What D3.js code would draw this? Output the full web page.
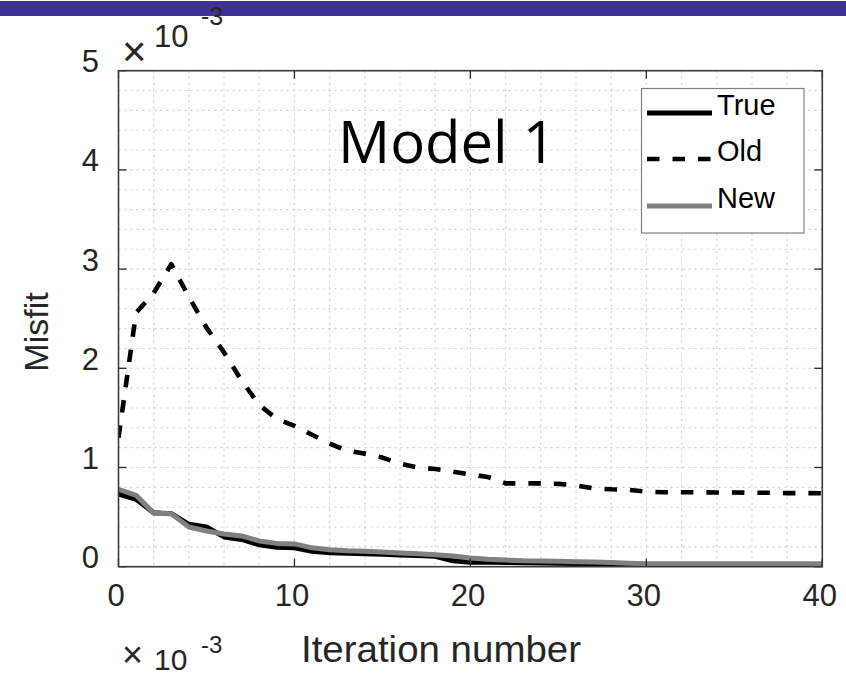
<!DOCTYPE html>
<html>
<head>
<meta charset="utf-8">
<script src="https://cdn.jsdelivr.net/npm/d3@7"></script>
<style>
  html, body { margin: 0; padding: 0; background: #fff; overflow: hidden; }
  svg { display: block; }
</style>
</head>
<body>
<svg id="chart" width="846" height="678"></svg>
<script>
// Iteration index and misfit (units of 1e-3) for each inversion run
const iterations = [0,1,2,3,4,5,6,7,8,9,10,11,12,13,14,15,16,17,18,19,20,
                    21,22,23,24,25,26,27,28,29,30,31,32,33,34,35,36,37,38,39,40];
const misfitTrue = [0.733,0.68,0.545,0.535,0.427,0.40,0.30,0.275,0.22,0.195,0.19,
                    0.155,0.14,0.135,0.13,0.125,0.118,0.112,0.105,0.06,0.045,
                    0.044,0.043,0.04,0.038,0.035,0.032,0.03,0.025,0.02,0.015,
                    0.015,0.015,0.015,0.015,0.015,0.015,0.015,0.015,0.015,0.015];
const misfitOld  = [1.30,2.56,2.76,3.05,2.72,2.41,2.16,1.875,1.63,1.49,1.42,
                    1.33,1.24,1.17,1.14,1.10,1.04,1.00,0.985,0.958,0.93,
                    0.904,0.84,0.84,0.84,0.835,0.82,0.79,0.78,0.775,0.756,
                    0.75,0.75,0.75,0.748,0.748,0.745,0.745,0.742,0.742,0.74];
const misfitNew  = [0.78,0.72,0.54,0.535,0.40,0.36,0.33,0.31,0.26,0.235,0.23,
                    0.19,0.17,0.16,0.155,0.148,0.138,0.13,0.12,0.108,0.088,
                    0.075,0.067,0.06,0.057,0.054,0.05,0.047,0.042,0.036,0.03,
                    0.03,0.03,0.03,0.03,0.03,0.03,0.03,0.03,0.03,0.03];

const seriesNames = ["True", "Old", "New"];
const xTickValues = [0, 10, 20, 30, 40];
const yTickValues = [0, 1, 2, 3, 4, 5];
const xDomain = [0, 40];
const yDomain = [0, 5];
const xMinorStep = 2;
const yMinorStep = 0.2;
const titleText = "Model 1";
const xLabelText = "Iteration number";
const yLabelText = "Misfit";
const exponentText = "-3";

const W = 846, H = 678;
const plot = { left: 118.5, right: 822.3, top: 70.7, bottom: 566.7 };
const axisColor = "#262626";
const sansFont = "'Liberation Sans', Arial, Helvetica, sans-serif";

const svg = d3.select("#chart");

// header band
svg.append("rect")
  .attr("x", 0).attr("y", 1).attr("width", W).attr("height", 15)
  .attr("fill", "#3b3293");

const x = d3.scaleLinear().domain(xDomain).range([plot.left, plot.right]);
const y = d3.scaleLinear().domain(yDomain).range([plot.bottom, plot.top]);

// dotted grid (major and minor)
const xGrid = d3.range(xDomain[0], xDomain[1] + 1e-9, xMinorStep);
const yGrid = d3.range(yDomain[0], yDomain[1] + 1e-9, yMinorStep);
const grid = svg.append("g")
  .attr("stroke", "#cdcdcd").attr("stroke-width", 1.1)
  .attr("stroke-dasharray", "2,4");
grid.selectAll("line.gx").data(xGrid.slice(1, -1)).join("line")
  .attr("class", "gx")
  .attr("x1", d => x(d)).attr("x2", d => x(d))
  .attr("y1", plot.top).attr("y2", plot.bottom);
grid.selectAll("line.gy").data(yGrid.slice(1, -1)).join("line")
  .attr("class", "gy")
  .attr("x1", plot.left).attr("x2", plot.right)
  .attr("y1", d => y(d)).attr("y2", d => y(d));

// clip so the thick lines stay inside the axes box
svg.append("clipPath").attr("id", "plotClip")
  .append("rect")
  .attr("x", plot.left).attr("y", plot.top)
  .attr("width", plot.right - plot.left).attr("height", plot.bottom - plot.top);

const line = d3.line().x(d => x(d[0])).y(d => y(d[1]));
const zipSeries = vals => iterations.map((it, i) => [it, vals[i]]);

const seriesStyle = {
  True: { color: "#000000", width: 5, dash: null },
  Old:  { color: "#000000", width: 4.6, dash: "12.5,13" },
  New:  { color: "#808080", width: 5, dash: null }
};
const seriesValues = { True: misfitTrue, Old: misfitOld, New: misfitNew };

const lines = svg.append("g").attr("clip-path", "url(#plotClip)");
seriesNames.forEach(name => {
  const s = seriesStyle[name];
  lines.append("path")
    .datum(zipSeries(seriesValues[name]))
    .attr("d", line)
    .attr("fill", "none")
    .attr("stroke", s.color)
    .attr("stroke-width", s.width)
    .attr("stroke-linejoin", "round")
    .attr("stroke-dasharray", s.dash);
});

// axes: bottom/left with labels, top/right mirrored ticks only
const tickLen = 8;
const axisBottom = d3.axisBottom(x).tickValues(xTickValues)
  .tickFormat(d3.format("d")).tickSize(0).tickPadding(0);
const gx = svg.append("g").attr("transform", `translate(0,${plot.bottom})`).call(axisBottom);
gx.select(".domain").remove();
gx.selectAll(".tick text")
  .attr("font-family", sansFont).attr("font-size", 31).attr("fill", axisColor)
  .attr("dy", 0).attr("y", 39.5).attr("dx", -3);

const axisLeft = d3.axisLeft(y).tickValues(yTickValues)
  .tickFormat(d3.format("d")).tickSize(0).tickPadding(0);
const gy = svg.append("g").attr("transform", `translate(${plot.left},0)`).call(axisLeft);
gy.select(".domain").remove();
gy.selectAll(".tick text")
  .attr("font-family", sansFont).attr("font-size", 31).attr("fill", axisColor)
  .attr("x", -19.5).attr("dy", 0).attr("y", 1);

// inward ticks on all four sides
const ticks = svg.append("g").attr("stroke", axisColor).attr("stroke-width", 1.3);
ticks.selectAll("line.tb").data(xTickValues).join("line").attr("class", "tb")
  .attr("x1", d => x(d)).attr("x2", d => x(d))
  .attr("y1", plot.bottom).attr("y2", plot.bottom - tickLen);
ticks.selectAll("line.tt").data(xTickValues).join("line").attr("class", "tt")
  .attr("x1", d => x(d)).attr("x2", d => x(d))
  .attr("y1", plot.top).attr("y2", plot.top + tickLen);
ticks.selectAll("line.tl").data(yTickValues).join("line").attr("class", "tl")
  .attr("x1", plot.left).attr("x2", plot.left + tickLen)
  .attr("y1", d => y(d)).attr("y2", d => y(d));
ticks.selectAll("line.tr").data(yTickValues).join("line").attr("class", "tr")
  .attr("x1", plot.right).attr("x2", plot.right - tickLen)
  .attr("y1", d => y(d)).attr("y2", d => y(d));

// axes box
svg.append("rect")
  .attr("x", plot.left).attr("y", plot.top)
  .attr("width", plot.right - plot.left).attr("height", plot.bottom - plot.top)
  .attr("fill", "none").attr("stroke", "#3a3a3a").attr("stroke-width", 1.6);

// axis labels
svg.append("text")
  .attr("x", 301).attr("y", 662)
  .attr("font-family", sansFont).attr("font-size", 36).attr("fill", axisColor)
  .attr("textLength", 280).attr("lengthAdjust", "spacingAndGlyphs")
  .text(xLabelText);

svg.append("text")
  .attr("transform", "translate(48,332) rotate(-90)")
  .attr("text-anchor", "middle")
  .attr("font-family", sansFont).attr("font-size", 34).attr("fill", axisColor)
  .text(yLabelText);

// exponent multiplier: this axis, and the one of the panel below
function exponentLabel(timesSize, timesY, tenSize, tenY, expSize, expY) {
  const g = svg.append("g").attr("font-family", sansFont).attr("fill", axisColor);
  g.append("text").attr("x", 122).attr("y", timesY).attr("font-size", timesSize)
    .attr("font-weight", 300).text("\u00d7");
  g.append("text").attr("x", 154).attr("y", tenY).attr("font-size", tenSize).text("10");
  g.append("text").attr("x", 201).attr("y", expY).attr("font-size", expSize).text(exponentText);
}
exponentLabel(42, 66, 31, 47, 25, 25);
exponentLabel(36, 667, 30, 670, 24, 653);

// title inside the axes
svg.append("text")
  .attr("x", 338).attr("y", 163)
  .attr("font-family", "'Open Sans', 'Noto Sans', sans-serif")
  .attr("font-size", 58).attr("fill", "#000")
  .text(titleText);

// legend
const legend = svg.append("g");
legend.append("rect")
  .attr("x", 641.5).attr("y", 88.5).attr("width", 162.5).attr("height", 144.5)
  .attr("fill", "#fff").attr("stroke", "#808080").attr("stroke-width", 1.2);
const legendRowY = [113, 159, 206];
seriesNames.forEach((name, i) => {
  const s = seriesStyle[name];
  legend.append("line")
    .attr("x1", 647).attr("x2", 712)
    .attr("y1", legendRowY[i]).attr("y2", legendRowY[i])
    .attr("stroke", s.color).attr("stroke-width", s.width)
    .attr("stroke-dasharray", s.dash);
  legend.append("text")
    .attr("x", 717).attr("y", legendRowY[i] + 2)
    .attr("font-family", sansFont).attr("font-size", 29).attr("fill", "#000")
    .text(name);
});
</script>
</body>
</html>
